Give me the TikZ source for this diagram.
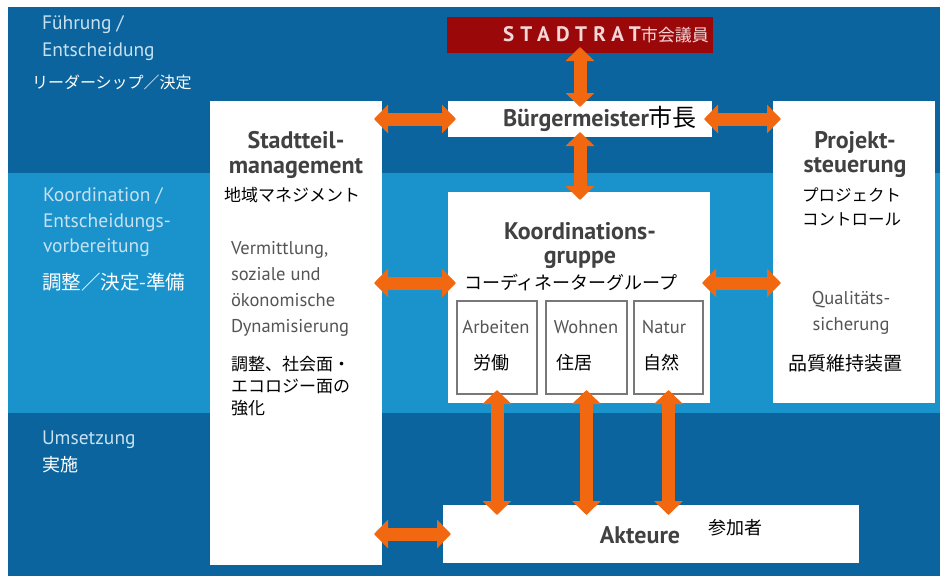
\documentclass[tikz,border=0pt]{standalone}
\usepackage{fontspec}
\setmainfont{PT Sans}
\newfontfamily\jp{Noto Sans CJK JP}
\usetikzlibrary{arrows.meta}
\definecolor{bandD}{RGB}{11,100,158}
\definecolor{bandL}{RGB}{26,147,205}
\definecolor{redbox}{RGB}{155,8,10}
\definecolor{arrowc}{RGB}{242,104,16}
\definecolor{lblc}{RGB}{200,225,240}
\definecolor{ttlc}{RGB}{65,65,65}
\definecolor{smlc}{RGB}{85,85,85}
\definecolor{ratc}{RGB}{245,215,215}
\definecolor{subc}{RGB}{120,120,120}
\newcommand\setfs[2]{\fontsize{#1}{#2}\selectfont}
\begin{document}
\begin{tikzpicture}[x=1pt,y=-1pt,
  every node/.style={inner sep=0pt, outer sep=0pt},
  box/.style={fill=white, draw=none, anchor=north west},
  subbox/.style={fill=white, draw=subc, line width=1.3pt, anchor=north west},
  ttl/.style={font=\bfseries\setfs{24}{24.5}, text=ttlc, align=center},
  sml/.style={font=\setfs{18.5}{26}, text=smlc, align=left},
  jpb/.style={font=\jp\setfs{17}{22}, text=black, align=left},
  lbl/.style={font=\setfs{19.5}{27}, text=lblc, align=left, anchor=west},
  lbljp/.style={font=\jp\setfs{17}{20}, text=white, anchor=west},
  dbl/.style={draw=arrowc, line width=13pt, {Triangle[length=14pt,width=28pt]}-{Triangle[length=14pt,width=28pt]}, shorten <=-8pt, shorten >=-8pt}]
\useasboundingbox (0,0) rectangle (940,576);
\fill[white] (0,0) rectangle (940,576);
\fill[bandD] (8,7) rectangle (940,576);
\fill[bandL] (8,173) rectangle (940,413);
% boxes
\node[box, minimum width=266pt, minimum height=36pt, fill=redbox] (rat) at (447,17) {};
\node[box, minimum width=264pt, minimum height=36pt] (bm) at (448,101) {};
\node[box, minimum width=172pt, minimum height=464pt] (stadt) at (210,101) {};
\node[box, minimum width=262pt, minimum height=211pt] (koord) at (448,192) {};
\node[box, minimum width=162pt, minimum height=302pt] (proj) at (773,101) {};
\node[box, minimum width=416pt, minimum height=58pt] (akt) at (443,505) {};
\node[subbox, minimum width=80pt, minimum height=93pt] (arb) at (457,301) {};
\node[subbox, minimum width=81pt, minimum height=93pt] (woh) at (546,301) {};
\node[subbox, minimum width=69pt, minimum height=93pt] (nat) at (634,301) {};
% side labels
\node[lbl] (fue) at (42,38.5) {Führung /\\Entscheidung};
\node[lbljp, font=\jp\setfs{16}{20}] (fuejp) at (32,82) {リーダーシップ／決定};
\node[lbl, font=\setfs{19.5}{25.5}] (kol) at (43,222.5) {Koordination /\\Entscheidungs-\\vorbereitung};
\node[lbljp, font=\jp\setfs{19.5}{22}] (koljp) at (42,282) {調整／決定-準備};
\node[lbl] (ums) at (42,440) {Umsetzung};
\node[lbljp, font=\jp\setfs{18}{20}] (umsjp) at (42,465) {実施};
% top
\node[font=\bfseries\setfs{21}{22}\addfontfeatures{LetterSpace=30}, text=ratc, anchor=west] (rattxt) at (503,35) {STADTRAT{\mdseries\jp\setfs{17}{20}市会議員}};
\node[font=\bfseries\setfs{24}{24}, text=ttlc, anchor=west] (bmtxt) at (503,119) {Bürgermeister{\mdseries\jp\setfs{24}{26}\color{black}市長}};
% Stadtteil
\node[ttl] (stadtttl) at (296,155) {Stadtteil-\\management};
\node[jpb, anchor=west] (stadtjp) at (224,195) {地域マネジメント};
\node[sml, anchor=west] (stadtsml) at (231,288.5) {Vermittlung,\\soziale und\\ökonomische\\Dynamisierung};
\node[jpb, anchor=west] (stadtjp2) at (231,386) {調整、社会面・\\エコロジー面の\\強化};
% Koordination
\node[ttl] (kttl) at (580,245.5) {Koordinations-\\gruppe};
\node[jpb, font=\jp\setfs{18}{22}] (kjp) at (571,283) {コーディネーターグループ};
\node[sml] (arbt) at (496,327) {Arbeiten};
\node[sml] (woht) at (586,327) {Wohnen};
\node[sml] (natt) at (664,327) {Natur};
\node[jpb, font=\jp\setfs{18}{20}] (arbjp) at (491,363) {労働};
\node[jpb, font=\jp\setfs{18}{20}] (wohjp) at (574,363) {住居};
\node[jpb, font=\jp\setfs{18}{20}] (natjp) at (661,363) {自然};
% Projekt
\node[ttl] (pttl) at (855,154.5) {Projekt-\\steuerung};
\node[jpb, font=\jp\setfs{16.5}{24}, anchor=west] (pjp) at (802,207) {プロジェクト\\コントロール};
\node[sml, align=center] (pq) at (851,312.5) {Qualitäts-\\sicherung};
\node[jpb, font=\jp\setfs{19}{22}] (pq2) at (845,363) {品質維持装置};
% Akteure
\node[font=\bfseries\setfs{24}{24}, text=ttlc] (akttxt) at (640,535) {Akteure};
\node[jpb, font=\jp\setfs{18}{20}] (aktjp) at (735,528) {参加者};
% arrows
\draw[dbl] (stadt.east |- bm.west) -- (bm.west);
\draw[dbl, shorten <=-6pt, shorten >=-6pt] (rat.south) -- (bm.north);
\draw[dbl, shorten <=-5pt] (bm.south) -- (koord.north -| bm.south);
\draw[dbl] (bm.east) -- (proj.west |- bm.east);
\draw[dbl] (stadt.east |- kjp) -- (koord.west |- kjp);
\draw[dbl] (koord.east |- kjp) -- (proj.west |- kjp);
\draw[dbl, shorten <=-4pt, shorten >=-10pt] (arb.south) -- (akt.north -| arb.south);
\draw[dbl, shorten <=-4pt, shorten >=-10pt] (woh.south) -- (akt.north -| woh.south);
\draw[dbl, shorten <=-4pt, shorten >=-10pt] (nat.south) -- (akt.north -| nat.south);
\draw[dbl] (stadt.east |- akt.west) -- (akt.west);
\end{tikzpicture}
\end{document}
